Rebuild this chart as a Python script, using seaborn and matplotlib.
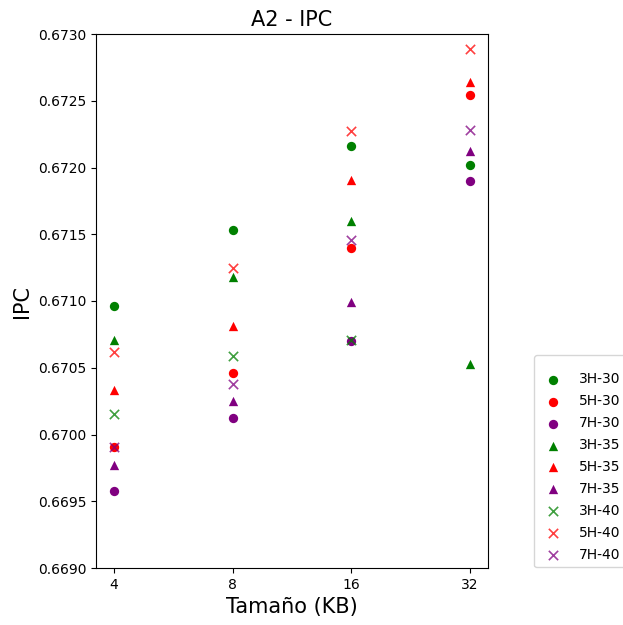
import matplotlib
matplotlib.use("Agg")
import matplotlib.pyplot as plt
from matplotlib.ticker import MultipleLocator, FormatStrFormatter
import numpy as np
import pandas as pd
import seaborn as sns

# Cache sizes (KB) on the x axis
sizes = ["4", "8", "16", "32"]

# IPC per configuration (history length H - table size)
ipc_3h_30 = [0.67096, 0.67153, 0.67216, 0.67202]
ipc_5h_30 = [0.66991, 0.67046, 0.67140, 0.67254]
ipc_7h_30 = [0.66958, 0.67012, 0.67070, 0.67190]
ipc_3h_35 = [0.67071, 0.67118, 0.67160, 0.67053]
ipc_5h_35 = [0.67033, 0.67081, 0.67191, 0.67264]
ipc_7h_35 = [0.66977, 0.67025, 0.67099, 0.67212]
ipc_3h_40 = [0.67015, 0.67059, 0.67071, np.nan]
ipc_5h_40 = [0.67062, 0.67125, 0.67227, 0.67289]
ipc_7h_40 = [0.66991, 0.67038, 0.67146, 0.67228]

series = [
    ("3H-30", ipc_3h_30, "green", "o"),
    ("5H-30", ipc_5h_30, "red", "o"),
    ("7H-30", ipc_7h_30, "purple", "o"),
    ("3H-35", ipc_3h_35, "green", "^"),
    ("5H-35", ipc_5h_35, "red", "^"),
    ("7H-35", ipc_7h_35, "purple", "^"),
    ("3H-40", ipc_3h_40, "green", "x"),
    ("5H-40", ipc_5h_40, "red", "x"),
    ("7H-40", ipc_7h_40, "purple", "x"),
]

fig = plt.figure(figsize=(6.23, 6.25), dpi=100)
ax = fig.add_axes([96 / 623, 57 / 625, 392 / 623, 534 / 625])

for label, values, color, marker in series:
    df = pd.DataFrame({"size": sizes, "ipc": values})
    kwargs = dict(s=45, linewidth=0) if marker != "x" else dict(s=45, linewidth=1.2, alpha=0.75)
    sns.scatterplot(data=df, x="size", y="ipc", color=color, marker=marker,
                    label=label, ax=ax, **kwargs)

ax.set_ylim(0.6690, 0.6730)
ax.yaxis.set_major_locator(MultipleLocator(0.0005))
ax.yaxis.set_major_formatter(FormatStrFormatter("%.4f"))
ax.set_title("A2 - IPC", fontsize=15)
ax.set_xlabel("Tamaño (KB)", fontsize=15)
ax.set_ylabel("IPC", fontsize=15)

ax.legend(loc="upper left", bbox_to_anchor=(534 / 623, 1 - 355 / 625),
          bbox_transform=fig.transFigure, borderaxespad=0, fontsize=10,
          labelspacing=0.57, title=" ", title_fontsize=2)

fig.savefig("out.png", dpi=100)
